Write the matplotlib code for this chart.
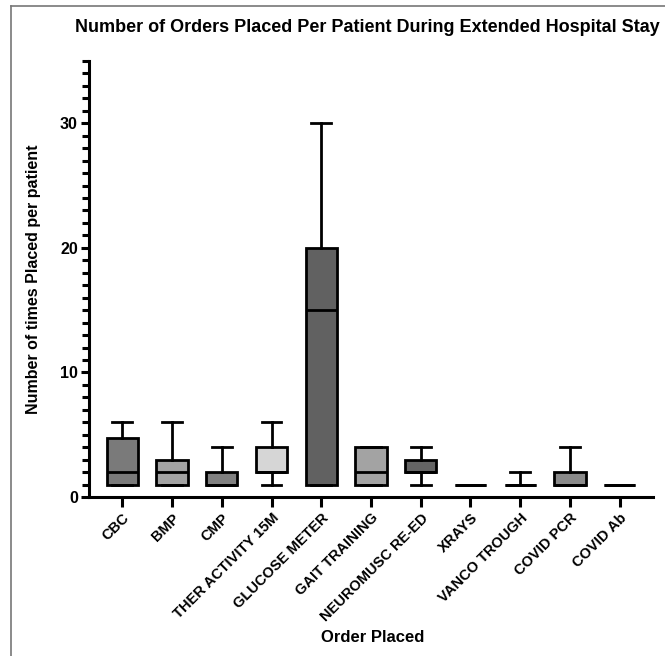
import numpy as np
import matplotlib.pyplot as plt
from matplotlib.lines import Line2D

plt.rcParams['font.family'] = ['Liberation Sans', 'DejaVu Sans']
plt.rcParams['font.weight'] = 'bold'

# donnees (min, Q1, mediane, Q3, max)
categories = ['CBC', 'BMP', 'CMP', 'THER ACTIVITY 15M', 'GLUCOSE METER',
              'GAIT TRAINING', 'NEUROMUSC RE-ED', 'XRAYS', 'VANCO TROUGH',
              'COVID PCR', 'COVID Ab']
mins = [1, 1, 1, 1, 1, 1, 1, 1, 1, 1, 1]
q1 = [1, 1, 1, 2, 1, 1, 2, 1, 1, 1, 1]
medians = [2, 2, 1, 2, 15, 2, 2, 1, 1, 1, 1]
q3 = [4.7, 3, 2, 4, 20, 4, 3, 1, 1, 2, 1]
maxs = [6, 6, 4, 6, 30, 4, 4, 1, 2, 4, 1]
colors = ['#7a7a7a', '#a3a3a3', '#808080', '#d6d6d6', '#616161', '#a3a3a3',
          '#646464', '#a3a3a3', '#a3a3a3', '#8a8a8a', '#a3a3a3']

fig = plt.figure(figsize=(6.65, 6.56), dpi=100)
ax = fig.add_axes([89/665, 1-497/656, (653-89)/665, (497-61)/656])

stats = []
for i in range(len(categories)):
    stats.append({'whislo': mins[i], 'q1': q1[i], 'med': medians[i],
                  'q3': q3[i], 'whishi': maxs[i], 'fliers': []})

lw = 2.0
bp = ax.bxp(stats, positions=np.arange(len(categories)), widths=0.63,
            capwidths=0.4, patch_artist=True, showfliers=False,
            boxprops=dict(linewidth=lw, edgecolor='black'),
            medianprops=dict(color='black', linewidth=lw),
            whiskerprops=dict(color='black', linewidth=lw),
            capprops=dict(color='black', linewidth=lw))
for patch, c in zip(bp['boxes'], colors):
    patch.set_facecolor(c)

ax.set_ylim(0, 35)
ax.set_xlim(-0.67, len(categories) - 1 + 0.67)
ax.set_yticks([0, 10, 20, 30])
ax.set_yticks(np.arange(0, 36, 1), minor=True)
ax.set_xticks(np.arange(len(categories)))
ax.set_xticklabels(categories, rotation=45, ha='right', rotation_mode='anchor',
                   fontsize=10.5, fontweight='bold')
for lab in ax.get_yticklabels():
    lab.set_fontsize(11.5)
    lab.set_fontweight('bold')

for s in ['top', 'right']:
    ax.spines[s].set_visible(False)
for s in ['left', 'bottom']:
    ax.spines[s].set_linewidth(2.2)
ax.tick_params(axis='y', which='major', length=6, width=2.2, pad=2)
ax.tick_params(axis='y', which='minor', length=5, width=2.2)
ax.tick_params(axis='x', length=7, width=2.2, pad=3)

ax.set_ylabel('Number of times Placed per patient', fontsize=11.5, fontweight='bold', labelpad=14)
fig.text(373/665, 1-638/656, 'Order Placed', fontsize=12, fontweight='bold',
         ha='center', va='center')
fig.text(75/665, 1-27/656, 'Number of Orders Placed Per Patient During Extended Hospital Stay',
         fontsize=13, fontweight='bold', ha='left', va='center')

# cadre de l'image (haut et gauche)
fig.add_artist(Line2D([11/665, 1], [1-6/656, 1-6/656], color='#777777', lw=1.2))
fig.add_artist(Line2D([11/665, 11/665], [0, 1-6/656], color='#777777', lw=1.2))

fig.savefig('out.png', dpi=100)
